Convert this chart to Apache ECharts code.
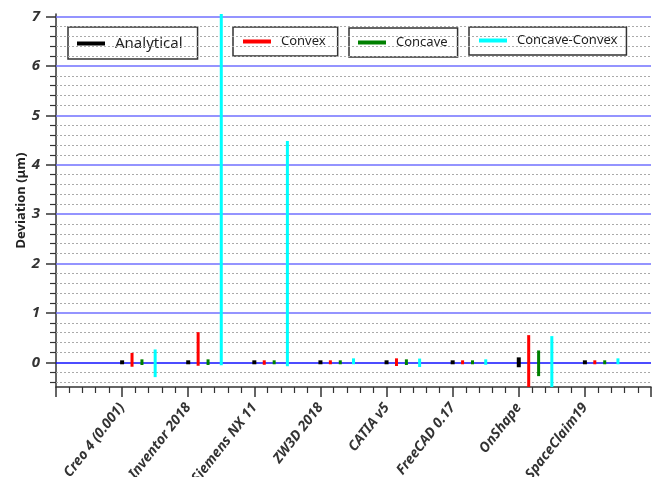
<!DOCTYPE html>
<html>
<head>
<meta charset="utf-8">
<script src="https://cdn.jsdelivr.net/npm/echarts@6/dist/echarts.min.js"></script>
<style>
  html, body { margin: 0; padding: 0; background: #fff; }
  #divChart { width: 661px; height: 477px; }
</style>
</head>
<body>
<div id="divChart"></div>
<script>
var categories = ['Creo 4 (0.001)', 'Inventor 2018', 'Siemens NX 11', 'ZW3D 2018', 'CATIA v5', 'FreeCAD 0.17', 'OnShape', 'SpaceClaim19'];

// deviation ranges (low / high) per software
var analyticalLow  = [-0.04, -0.04, -0.04, -0.04, -0.04, -0.04, -0.1, -0.04];
var analyticalHigh = [0.04, 0.04, 0.04, 0.04, 0.04, 0.04, 0.1, 0.04];
var convexLow  = [-0.09, -0.07, -0.05, -0.04, -0.075, -0.04, -0.6, -0.04];
var convexHigh = [0.19, 0.61, 0.04, 0.04, 0.08, 0.04, 0.55, 0.04];
var concaveLow  = [-0.055, -0.055, -0.04, -0.04, -0.055, -0.04, -0.28, -0.04];
var concaveHigh = [0.06, 0.06, 0.04, 0.04, 0.06, 0.04, 0.24, 0.04];
var ccLow  = [-0.3, -0.06, -0.08, -0.04, -0.095, -0.05, -0.6, -0.04];
var ccHigh = [0.26, 7.05, 4.48, 0.08, 0.075, 0.06, 0.53, 0.08];

var majorTicks = [0, 1, 2, 3, 4, 5, 6, 7];
var minorTicks = [-0.4, -0.2, 0.2, 0.4, 0.6, 0.8, 1.2, 1.4, 1.6, 1.8, 2.2, 2.4, 2.6, 2.8,
    3.2, 3.4, 3.6, 3.8, 4.2, 4.4, 4.6, 4.8, 5.2, 5.4, 5.6, 5.8, 6.2, 6.4, 6.6, 6.8];

var chart;
var option;

function makeData(low, high, offset) {
    var out = [];
    for (let i = 0; i < low.length; ++i) {
        out.push([i + offset, low[i], high[i]]);
    }
    return out;
}

function errorBar(width) {
    return function (params, api) {
        var top = api.coord([api.value(0), api.value(2)]);
        var bottom = api.coord([api.value(0), api.value(1)]);
        return {
            type: 'rect',
            shape: { x: top[0] - width / 2, y: top[1], width: width, height: bottom[1] - top[1] },
            style: { fill: api.visual('color') }
        };
    };
}

function barSeries(name, color, low, high, offset, width) {
    return {
        name: name,
        type: 'custom',
        z: 5,
        clip: true,
        itemStyle: { color: color },
        renderItem: errorBar(width),
        encode: { x: 0, y: [1, 2] },
        data: makeData(low, high, offset)
    };
}

function legendBox(name, color, left, top, padding, fontSize) {
    return {
        data: [{ name: name, itemStyle: { color: color, borderWidth: 0, decal: 'none' } }],
        left: left,
        top: top,
        orient: 'horizontal',
        selectedMode: false,
        backgroundColor: '#fff',
        borderColor: '#333',
        borderWidth: 1.5,
        borderRadius: 0,
        padding: padding,
        itemWidth: 28,
        itemHeight: 4,
        icon: 'rect',
        itemStyle: { borderWidth: 0 },
        textStyle: { fontSize: fontSize, color: '#222', fontFamily: 'Noto Sans', padding: [0, 0, 0, 5] }
    };
}

function chart_init() {
    chart = echarts.init(document.getElementById('divChart'));
    var font = 'Noto Sans';
    option = {
        animation: false,
        legend: [
            legendBox('Analytical', '#000000', 68, 27, [9, 15, 8, 9], 15),
            legendBox('Convex', '#ff0000', 233, 27, [8, 12, 8, 10], 13),
            legendBox('Concave', '#008000', 349, 28, [8, 10, 8, 9], 13),
            legendBox('Concave-Convex', '#00ffff', 469, 27, [7, 9, 8, 10], 13)
        ],
        grid: { left: 56, right: 10, top: 14, bottom: 90, containLabel: false, outerBoundsMode: 'none' },
        xAxis: {
            type: 'value',
            min: -1,
            max: 8,
            interval: 1,
            axisLine: { onZero: false, lineStyle: { color: '#333', width: 1.5 } },
            axisTick: { length: 10, lineStyle: { color: '#333', width: 1.5 } },
            minorTick: { show: true, splitNumber: 5, length: 6, lineStyle: { color: '#333', width: 1.2 } },
            splitLine: { show: false },
            axisLabel: {
                rotate: 52,
                margin: 18,
                fontSize: 14,
                fontWeight: 'bold',
                fontStyle: 'italic',
                fontFamily: font,
                color: '#333',
                formatter: function (v) { return categories[v] || ''; }
            }
        },
        yAxis: [
            {
                type: 'value',
                min: -0.5,
                max: 7.05,
                name: 'Deviation (\u03bcm)',
                nameLocation: 'middle',
                nameGap: 28,
                nameMoveOverlap: false,
                nameTextStyle: { fontSize: 13, fontWeight: 'bold', fontFamily: font, color: '#222' },
                axisLine: { show: true, onZero: false, lineStyle: { color: '#333', width: 1.5 } },
                axisTick: { show: true, customValues: majorTicks, length: 10, lineStyle: { color: '#333', width: 1.5 } },
                splitLine: { show: false },
                axisLabel: {
                    customValues: majorTicks,
                    margin: 16,
                    fontSize: 15,
                    fontWeight: 'bold',
                    fontStyle: 'italic',
                    fontFamily: font,
                    color: '#333'
                }
            },
            {
                type: 'value',
                min: -0.5,
                max: 7.05,
                position: 'left',
                axisLine: { show: false, onZero: false },
                axisTick: { show: true, customValues: minorTicks, length: 6, lineStyle: { color: '#333', width: 1.2 } },
                axisLabel: { show: false },
                splitLine: { show: false }
            }
        ],
        series: [
            {
                name: 'grid',
                type: 'line',
                z: 1,
                silent: true,
                showSymbol: false,
                lineStyle: { opacity: 0 },
                data: [[-1, 0]],
                markLine: {
                    silent: true,
                    symbol: 'none',
                    label: { show: false },
                    animation: false,
                    data: minorTicks.map(function (v) {
                        return { yAxis: v, lineStyle: { color: '#aaa', width: 1, type: [2, 2] } };
                    }).concat(majorTicks.map(function (v) {
                        return { yAxis: v, lineStyle: { color: v === 0 ? '#1010ff' : '#7070ff', width: 1.5, type: 'solid' } };
                    }))
                }
            },
            barSeries('Analytical', '#000000', analyticalLow, analyticalHigh, 0, 4),
            barSeries('Convex', '#ff0000', convexLow, convexHigh, 0.15, 3),
            barSeries('Concave', '#008000', concaveLow, concaveHigh, 0.3, 3),
            barSeries('Concave-Convex', '#00ffff', ccLow, ccHigh, 0.5, 3)
        ]
    };
    chart.setOption(option);
}

chart_init();
</script>
</body>
</html>
